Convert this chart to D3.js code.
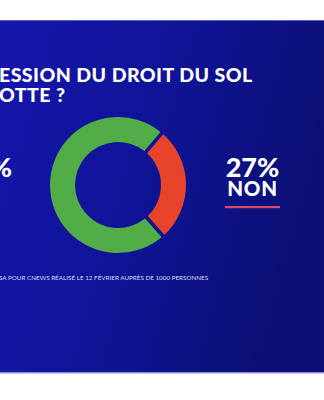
<!DOCTYPE html>
<html><head><meta charset="utf-8">
<script src="https://cdn.jsdelivr.net/npm/d3@7"></script>
<style>html,body{margin:0;padding:0;background:#fff;overflow:hidden}</style>
</head><body>
<svg id="c" width="324" height="400"></svg>
<script>
const categories = ["OUI", "NON"];
const values = [73, 27];
const titleLines = ["ESSION DU DROIT DU SOL", "OTTE ?"];
const footnote = "SA POUR CNEWS RÉALISÉ LE 12 FÉVRIER AUPRÈS DE 1000 PERSONNES";
const colors = ["#52ac48", "#e8442c"];

const svg = d3.select("#c");
const defs = svg.append("defs");
const g1 = defs.append("linearGradient").attr("id","bg").attr("x1","0").attr("y1","0").attr("x2","1").attr("y2","0.3");
g1.append("stop").attr("offset","0").attr("stop-color","#1616ab");
g1.append("stop").attr("offset","0.55").attr("stop-color","#0f1495");
g1.append("stop").attr("offset","1").attr("stop-color","#0b0f74");

svg.append("rect").attr("x",0).attr("y",20).attr("width",324).attr("height",353).attr("fill","url(#bg)");
svg.append("rect").attr("x",0).attr("y",20).attr("width",324).attr("height",1).attr("fill","#5a5fc0");
svg.append("rect").attr("x",0).attr("y",372).attr("width",324).attr("height",1.5).attr("fill","#8a8ed8");

const font = "Lato, 'Open Sans', sans-serif";
svg.selectAll("text.title").data(titleLines).join("text")
  .attr("class","title")
  .attr("x", -1)
  .attr("y", (d,i) => 82 + i * 20)
  .attr("fill","#ffffff").attr("font-family",font).attr("font-weight",900)
  .attr("font-size",19.5).attr("letter-spacing",0.45).text(d => d);

// donut
const cx = 118, cy = 185, rOuter = 68, rInner = 43;
const total = d3.sum(values);
const start = Math.PI/2 + (values[1]/total)*Math.PI;
const pie = d3.pie().sort(null).startAngle(start).endAngle(start + 2*Math.PI).padAngle(0.045);
const arc = d3.arc().innerRadius(rInner).outerRadius(rOuter);
const gd = svg.append("g").attr("transform",`translate(${cx},${cy})`);
gd.selectAll("path").data(pie(values)).join("path")
  .attr("d", arc).attr("fill",(d,i)=>colors[i]);

// labels
const labels = [
  {x: 12, anchor: "end"},
  {x: 252.5, anchor: "middle"}
];
const gl = svg.append("g");
categories.forEach((c,i) => {
  const L = labels[i];
  gl.append("text").attr("x",L.x).attr("y",177).attr("text-anchor",L.anchor)
    .attr("fill","#fff").attr("font-family",font).attr("font-weight",900).attr("font-size",27)
    .text(values[i] + "%");
  if (i === 1) {
    gl.append("text").attr("x",L.x).attr("y",196).attr("text-anchor","middle")
      .attr("fill","#fff").attr("font-family",font).attr("font-weight",900).attr("font-size",20.5)
      .attr("letter-spacing",0.8)
      .text(c);
    gl.append("rect").attr("x",L.x-27.5).attr("y",206).attr("width",55).attr("height",2.2).attr("fill","#d84a6a");
  }
});

svg.append("text").attr("x",-1).attr("y",280).attr("fill","#d8dcf0")
  .attr("font-family",font).attr("font-size",6.3).text(footnote);
</script>
</body></html>
